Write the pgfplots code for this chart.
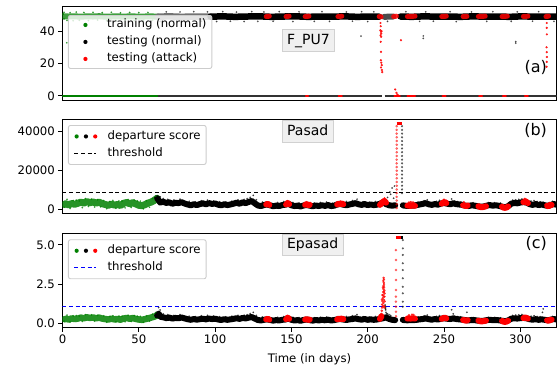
\documentclass[border=0pt]{standalone}
\usepackage{pgfplots}
\pgfplotsset{compat=1.18}
\usepackage{fontspec}
\setmainfont{DejaVu Sans}
\definecolor{mgreen}{HTML}{008000}
\definecolor{mred}{HTML}{FF0000}
\definecolor{mblue}{HTML}{0000FF}
\newcommand\tf{\fontsize{11.7pt}{14pt}\selectfont}
\newcommand\lf{\fontsize{14pt}{16pt}\selectfont}
\newcommand\pf{\fontsize{16pt}{19pt}\selectfont}
\pgfplotsset{
 panel/.style={
  scale only axis, width=494pt, height=94pt, anchor=south west,
  xmin=0, xmax=323.7,
  axis line style={line width=0.9pt},
  tick style={black, line width=0.9pt},
  tick align=outside, major tick length=4.1pt,
  ytick pos=left, xtick pos=bottom,
  tick label style={font=\tf},
  /pgf/number format/assume math mode=true,
  /pgf/number format/1000 sep={},
  legend cell align=left,
  legend style={at={(0,1)}, anchor=north west, xshift=5.5pt, draw=black!20, line width=0.9pt,
    fill=white, fill opacity=0.8, text opacity=1, draw opacity=1, rounded corners=2pt,
    inner xsep=5.5pt, inner ysep=4pt, row sep=6pt, font=\tf,
    nodes={inner sep=0pt, text height=8.5pt, text depth=2.5pt}},
 },
 dots/.style={only marks, mark=*, mark size=#1, forget plot},
 band/.style={line width=#1, line join=round, line cap=round, forget plot, mark=none, unbounded coords=jump},
 onedot/.style={legend image code/.code={\path[draw=none,fill=none] (0pt,0pt) -- (33.2pt,0pt); \fill[#1,draw=none,fill opacity=1] (11.5pt,0pt) circle (2.1pt);}},
 threedots/.style={legend image code/.code={\path[draw=none,fill=none] (0pt,0pt) -- (33.2pt,0pt); \fill[mgreen,draw=none,fill opacity=1] (2.2pt,0pt) circle (2.1pt); \fill[black,draw=none,fill opacity=1] (11.5pt,0pt) circle (2.1pt); \fill[mred,draw=none,fill opacity=1] (20.8pt,0pt) circle (2.1pt);}},
 dashimg/.style={legend image code/.code={\path[draw=none,fill=none] (0pt,0pt) -- (33.2pt,0pt); \draw[#1, line width=1pt, dash pattern=on 4pt off 2.6pt] (0pt,0pt) -- (21.3pt,0pt);}},
}
\tikzset{
 ttl/.style={anchor=west, fill=black!6, draw=black!18, line width=0.9pt, font=\lf, inner xsep=5pt, inner ysep=3.8pt, text height=10.5pt, text depth=3.5pt},
 plab/.style={anchor=east, font=\pf, inner sep=0pt},
}
\begin{document}
\begin{tikzpicture}
\useasboundingbox (0,0) rectangle (558pt,368pt);
% ---------------- (a) F_PU7
\begin{axis}[panel, at={(62.5pt,267.7pt)}, ymin=-2.7, ymax=55.3, ytick={0,20,40}, xtick=\empty,
  legend style={yshift=-8.7pt}]
\addplot[band=6pt, mgreen, opacity=0.75] coordinates {(0,49.2)(4,49.0)(8,49.1)(12,48.9)(16,49.1)(20,49.0)(24,49.2)(28,48.9)(32,49.0)(36,49.1)(40,48.9)(44,49.1)(48,49.0)(52,48.9)(56,49.1)(60,49.0)(62.5,49.0)};
\addplot[mgreen, line width=1.4pt, forget plot] coordinates {(0,0)(62.5,0)};
\addplot[dots=0.7pt, mgreen, opacity=0.6] coordinates {(1,51.6)(3,46.6)(5,51.4)(7,46.4)(9,51.7)(11,46.7)(14,51.5)(17,46.5)(20,51.6)(23,46.8)(26,51.4)(29,46.5)(32,51.6)(35,46.6)(38,51.3)(41,46.7)(44,51.5)(47,46.5)(50,51.4)(53,46.6)(56,51.5)(59,46.7)(2.8,32.8)(0.5,50.5)(1,47.5)};
\addplot[band=6.5pt, black!55] coordinates {(62.5,48.9)(70,49.1)(78,48.8)(86,49.0)(97,48.9)};
\addplot[band=6.5pt, black] coordinates {(97,48.9)(105,49.1)(113,48.8)(121,49.0)(129,49.1)(137,48.8)(145,49.0)(153,49.1)(161,48.8)(169,49.0)(177,48.9)(185,49.1)(193,48.8)(201,49.0)(207.5,48.9)};
\addplot[band=6pt, black!70] coordinates {(210.8,48.8)(216.8,49.0)};
\addplot[band=6.5pt, black] coordinates {(221.5,49.0)(229,48.8)(237,49.1)(245,48.9)(253,49.0)(261,48.8)(269,49.1)(277,48.9)(285,49.0)(293,48.8)(301,49.1)(309,48.9)(317,49.0)(323.7,48.9)};
\addplot[black!80, line width=1.4pt, forget plot] coordinates {(62.5,0)(209.5,0)};
\addplot[black!80, line width=1.4pt, forget plot] coordinates {(211,0)(323.7,0)};
\addplot[dots=0.7pt, black, opacity=0.5] coordinates {(64,46.0)(68,51.9)(73,46.2)(77,51.8)(82,45.9)(86,52.0)(91,46.1)(95,51.9)(101,45.9)(105,52.0)(110,46.1)(114,51.7)(119,45.9)(124,52.0)(128,46.0)(132,51.8)(138,46.1)(142,52.0)(151,45.9)(155,51.9)(165,46.0)(170,52.0)(175,46.0)(186,51.8)(190,46.1)(196,52.0)(200,45.9)(204,51.9)(213,46.0)(225,52.0)(234,46.0)(238,51.9)(243,46.1)(254,52.0)(258,45.9)(268,51.8)(278,46.0)(282,52.0)(294,46.0)(298,51.9)(308,46.1)(312,52.0)(322,46.0)(195.6,36.9)(236.4,37.0)(236.4,35.5)(297,33.5)(297,32.6)};
\addplot[band=5pt, mred, opacity=0.85] coordinates {(133.5,49)(135.5,49.2)(136,nan)(146.5,49)(148.5,49.2)(149,nan)(159,49)(161.5,49.2)(162,nan)(180.5,49)(183,49.2)(183.5,nan)(207.5,49)(208.8,48.8)(209,nan)(217,49)(218.8,49.2)(219,nan)(226,49)(231,49.2)(231.5,nan)(248.5,49)(251.5,49.2)(252,nan)(262.5,49)(265,49.1)(265.5,nan)(272.5,49)(277,49.2)(277.5,nan)(288,49)(291.5,49.2)(292,nan)(302,49)(305,49.2)(305.5,nan)(316.8,49)(318.5,49.2)};
\addplot[band=2pt, mred] coordinates {(159.5,0)(161,0)(161.5,nan)(181,0)(183,0)(183.5,nan)(217.5,0)(221,0)(221.5,nan)(226,0)(231,0)(231.5,nan)(249,0)(251,0)(251.5,nan)(273,0)(275,0)(275.5,nan)(288.5,0)(290.5,0)(291,nan)(303,0)(305,0)};
\addplot[dots=0.9pt, mred, opacity=0.8] coordinates {(208.3,40.5)(208.6,39.5)(208.9,38.5)(208.4,37.5)(208.8,36.5)(209.1,40)(208.5,33.4)(208.7,27.2)(208.6,22)(208.9,20.5)(209.2,19)(208.7,17.5)(209.3,16)(209.5,14.7)(208.4,45)(208.5,43)(221.8,34.4)(218,4)(218.8,1.9)(219.5,0.8)(317.3,45)(317.3,42)(317.4,38)(317.2,30)(317.3,27)(317.4,24)(317.3,21)(317.2,18)};
\addlegendimage{onedot=mgreen}
\addlegendentry{training (normal)}
\addlegendimage{onedot=black}
\addlegendentry{testing (normal)}
\addlegendimage{onedot=mred}
\addlegendentry{testing (attack)}
\node[ttl] at (rel axis cs:0.4437,0.634) {F\_PU7};
\node[plab] at (rel axis cs:0.981,0.354) {(a)};
\end{axis}
% ---------------- (b) Pasad
\begin{axis}[panel, at={(62.5pt,154.5pt)}, ymin=-2000, ymax=46000, ytick={0,20000,40000}, xtick=\empty,
  scaled y ticks=false, legend style={yshift=-5.5pt, inner ysep=5.5pt}]
\addplot[black, line width=1pt, dash pattern=on 4pt off 2.6pt, forget plot] coordinates {(0,8750)(323.7,8750)};
\addplot[band=7pt, mgreen, opacity=0.85] coordinates {(1.5,2600)(2,3000)(4,2400)(6,3100)(8,2700)(10,3200)(12,3800)(14,3300)(16,4100)(18,3500)(20,3900)(22,3300)(24,3800)(26,3000)(28,2600)(30,2200)(32,2800)(34,2300)(36,2600)(38,2100)(40,3200)(42,3600)(44,3000)(46,3500)(48,2900)(50,2200)(52,2000)(54,2500)(56,3300)(58,3800)(60,4600)(62,5800)};
\addplot[dots=0.7pt, mgreen, opacity=0.6] coordinates {(3,5200)(9,4800)(15,5600)(19,5300)(23,5000)(27,4600)(33,4700)(37,4400)(43,5100)(47,4900)(51,4300)(55,4500)(59,5700)(61,6800)(5,600)(13,1000)(21,1300)(29,500)(35,700)(45,1100)(53,400)(57,1200)(1,1200)(7,4600)(11,4400)(17,1600)(25,1400)(31,4100)(39,4300)(41,900)(49,4400)};
\addplot[band=6pt, black] coordinates {(62,5800)(63,4800)(64,3600)(66,4000)(68,3400)(70,3700)(72,3000)(74,3500)(76,3300)(78,3800)(80,3100)(82,2600)(84,2200)(86,2700)(88,2300)(90,2800)(92,3200)(94,2700)(96,3300)(98,2900)(100,3100)(102,2500)(104,2200)(106,2700)(108,2300)(110,2600)(112,3000)(114,3500)(116,3000)(118,3700)(120,3300)(122,3900)(124,4400)(126,3200)(128,2100)(130,1800)(132,2300)(134,2600)(136,2200)(138,1700)(140,2000)(142,1800)(144,2300)(146,2500)(148,3000)(150,2200)(152,1800)(154,2000)(156,1600)(158,2100)(160,2400)(162,2000)(164,1700)(166,2100)(168,1800)(170,2200)(172,1900)(174,2300)(176,1800)(178,2000)(180,2600)(182,2900)(184,2500)(186,2200)(188,2600)(190,2900)(192,3300)(194,2700)(196,2400)(198,2800)(200,2300)(202,2600)(204,2300)(206,2500)(208,3000)(210,3700)(212,2800)(214,2200)(216,2000)(218,2200)};
\addplot[band=6pt, black] coordinates {(223,2200)(224,2000)(226,1900)(228,2000)(230,2000)(232,2300)(234,2600)(236,2900)(238,3300)(240,2700)(242,2400)(244,2800)(246,2500)(248,3100)(250,3400)(252,3000)(254,2700)(256,3200)(258,2800)(260,2600)(262,2400)(264,2000)(266,1800)(268,2200)(270,2000)(272,1700)(274,1500)(276,1600)(278,2000)(280,2300)(282,2000)(284,2200)(286,1900)(288,1500)(290,1200)(292,1700)(294,3000)(296,3400)(298,3200)(300,3600)(302,3800)(304,3600)(306,2800)(308,2400)(310,2800)(312,2300)(314,2600)(316,2200)(318,1900)(320,2400)(322,2800)(323.7,2500)};
\addplot[dots=0.7pt, black, opacity=0.55] coordinates {(64,6500)(66,5600)(69,5200)(73,4900)(77,5300)(83,4200)(87,3900)(91,4500)(95,4800)(99,4400)(103,4000)(107,3900)(111,4300)(115,5000)(119,5200)(121,5600)(123,6200)(125,7300)(127,5000)(131,3800)(141,3600)(145,4100)(151,3600)(155,3400)(165,3300)(169,3600)(173,3800)(177,3200)(186,4100)(190,4600)(193,5300)(197,4000)(201,3700)(205,4100)(213,6200)(214.5,9000)(215,7800)(216,11000)(217,5800)(217.5,12000)(233,3800)(237,4500)(239,5000)(245,4200)(247,4700)(255,5400)(257,4300)(259,4100)(261,3900)(269,3500)(279,3600)(283,3500)(287,3300)(295,4800)(297,5000)(299,5200)(301,5400)(307,4300)(309,4600)(311,4100)(313,4000)(315,3700)(321,4200)};
\addplot[band=6pt, mred] coordinates {(133.5,2600)(134.5,3000)(135.5,2400)(136,nan)(146.5,2600)(147.5,3400)(148.5,2800)(149,nan)(159,2400)(160,2800)(161,2200)(162,2500)(162.5,nan)(180,2600)(181,3000)(182,2800)(183,3200)(184,2700)(184.5,nan)(208,2400)(209,3200)(210,3900)(211,4400)(212,3500)(212.5,nan)(226,2000)(227,2100)(228,1900)(229,2000)(230,2100)(231,1900)(231.5,nan)(248.5,3000)(249.5,3600)(250.5,3900)(251.5,3300)(252,nan)(262.5,2200)(263.5,2000)(264.5,1800)(265.5,2100)(266,nan)(272.5,1700)(273.5,1400)(274.5,1200)(275.5,1300)(276.5,1500)(277.5,1700)(278,nan)(288,1500)(289,1000)(290,900)(291,1100)(292,1600)(292.5,nan)(302,3800)(303,4300)(304,3900)(305,3300)(305.5,nan)(317.5,2000)(318.5,1700)(319.5,2200)(320.5,2400)};
\addplot[dots=0.8pt, mred, opacity=0.8] coordinates {(210,5200)(211,5800)(209.5,4800)(303,5600)(304,5000)(250,5200)(227,3700)(229,3800)(230,3600)(228,3900)(263,3800)(319,3500)(160,3900)(182,4200)};
\addplot[dots=1.1pt, mred, opacity=0.5] coordinates {(219,800)(219,2700)(219,4600)(219,6500)(219,8400)(219,10300)(219,12200)(219,14100)(219,16000)(219,17900)(219,19800)(219,21700)(219,23600)(219,25500)(219,27400)(219,29300)(219,31200)(219,33100)(219,35000)(219,36900)(219,38800)(219,40700)(219,42600)};
\addplot[dots=0.9pt, black, opacity=0.5] coordinates {(222.5,8400)(222.5,10300)(222.5,12200)(222.5,14100)(222.5,16000)(222.5,17900)(222.5,19800)(222.5,21700)(222.5,23600)(222.5,25500)(222.5,27400)(222.5,29300)(222.5,31200)(222.5,33100)(222.5,35000)(222.5,36900)(222.5,38800)(222.5,40700)(222.5,42600)};
\addplot[mred, line width=2.5pt, forget plot] coordinates {(219,43900)(222.5,43900)};
\addlegendimage{threedots}
\addlegendentry{departure score}
\addlegendimage{dashimg=black}
\addlegendentry{threshold}
\node[ttl] at (rel axis cs:0.4437,0.870) {Pasad};
\node[plab] at (rel axis cs:0.981,0.888) {(b)};
\end{axis}
% ---------------- (c) Epasad
\begin{axis}[panel, at={(62.5pt,40.5pt)}, ymin=-0.27, ymax=5.73, ytick={0,2.5,5}, xtick={0,50,100,150,200,250,300},
  yticklabel style={/pgf/number format/.cd, fixed, fixed zerofill, precision=1},
  xlabel={Time (in days)}, xlabel style={font=\tf, yshift=-2.5pt},
  legend style={yshift=-5.8pt, inner ysep=5.5pt}]
\addplot[mblue, line width=1pt, dash pattern=on 4pt off 2.6pt, forget plot] coordinates {(0,1.10)(323.7,1.10)};
\addplot[band=6.5pt, mgreen, opacity=0.85] coordinates {(1.5,0.25)(2,0.30)(4,0.24)(6,0.31)(8,0.27)(10,0.30)(12,0.36)(14,0.32)(16,0.38)(18,0.34)(20,0.37)(22,0.32)(24,0.36)(26,0.30)(28,0.27)(30,0.24)(32,0.29)(34,0.25)(36,0.27)(38,0.23)(40,0.30)(42,0.34)(44,0.29)(46,0.33)(48,0.28)(50,0.24)(52,0.22)(54,0.26)(56,0.31)(58,0.36)(60,0.42)(62,0.50)};
\addplot[dots=0.7pt, mgreen, opacity=0.6] coordinates {(3,0.52)(9,0.49)(15,0.55)(19,0.53)(23,0.50)(27,0.47)(33,0.48)(37,0.46)(43,0.51)(47,0.49)(51,0.44)(55,0.47)(59,0.58)(61,0.68)(5,0.08)(13,0.12)(21,0.14)(29,0.07)(35,0.09)(45,0.12)(53,0.06)(57,0.14)(1,0.14)(7,0.47)(11,0.46)(31,0.43)(39,0.45)(41,0.10)(49,0.45)};
\addplot[band=6pt, black] coordinates {(62,0.50)(63,0.62)(64,0.42)(66,0.38)(68,0.33)(70,0.36)(72,0.30)(74,0.34)(76,0.32)(78,0.37)(80,0.31)(82,0.26)(84,0.22)(86,0.27)(88,0.23)(90,0.26)(92,0.29)(94,0.25)(96,0.30)(98,0.27)(100,0.29)(102,0.24)(104,0.21)(106,0.26)(108,0.22)(110,0.25)(112,0.28)(114,0.32)(116,0.28)(118,0.34)(120,0.31)(122,0.36)(124,0.40)(126,0.30)(128,0.21)(130,0.18)(132,0.22)(134,0.25)(136,0.21)(138,0.17)(140,0.20)(142,0.18)(144,0.22)(146,0.24)(148,0.30)(150,0.22)(152,0.18)(154,0.20)(156,0.16)(158,0.21)(160,0.24)(162,0.20)(164,0.17)(166,0.21)(168,0.18)(170,0.22)(172,0.19)(174,0.23)(176,0.18)(178,0.20)(180,0.25)(182,0.27)(184,0.24)(186,0.21)(188,0.25)(190,0.27)(192,0.31)(194,0.26)(196,0.23)(198,0.27)(200,0.22)(202,0.25)(204,0.22)(206,0.24)(208,0.28)(210,0.32)(212,0.38)(213,0.32)(214,0.28)(216,0.22)(218,0.20)};
\addplot[band=6pt, black] coordinates {(223,0.22)(224,0.20)(226,0.19)(228,0.20)(230,0.20)(232,0.22)(234,0.25)(236,0.27)(238,0.31)(240,0.26)(242,0.23)(244,0.27)(246,0.24)(248,0.29)(250,0.32)(252,0.29)(254,0.27)(256,0.31)(258,0.27)(260,0.25)(262,0.23)(264,0.20)(266,0.18)(268,0.21)(270,0.20)(272,0.17)(274,0.15)(276,0.16)(278,0.20)(280,0.22)(282,0.20)(284,0.21)(286,0.19)(288,0.16)(290,0.13)(292,0.18)(294,0.29)(296,0.32)(298,0.30)(300,0.33)(302,0.34)(304,0.32)(306,0.26)(308,0.23)(310,0.26)(312,0.22)(314,0.25)(316,0.22)(318,0.19)(320,0.23)(322,0.27)(323.7,0.24)};
\addplot[dots=0.7pt, black, opacity=0.55] coordinates {(64,0.85)(63,1.0)(66,0.6)(69,0.55)(73,0.5)(77,0.55)(83,0.45)(87,0.42)(91,0.48)(95,0.5)(99,0.46)(103,0.42)(107,0.41)(111,0.45)(115,0.5)(119,0.52)(121,0.55)(123,0.62)(125,0.70)(127,0.5)(131,0.4)(141,0.38)(145,0.43)(151,0.38)(155,0.36)(165,0.35)(169,0.38)(173,0.40)(177,0.34)(186,0.43)(190,0.48)(193,0.55)(197,0.42)(201,0.39)(205,0.43)(213,0.6)(214,0.55)(215,0.5)(233,0.4)(237,0.47)(239,0.52)(245,0.44)(247,0.49)(255,0.86)(256,0.6)(257,0.45)(259,0.43)(261,0.41)(265,0.7)(269,0.37)(279,0.38)(283,0.37)(287,0.35)(295,0.5)(297,0.52)(299,0.54)(301,0.56)(307,0.45)(309,0.48)(311,0.43)(313,0.42)(315,0.92)(314.5,0.7)(321,0.44)(211.4,1.17)(211.6,1.0)(211.8,0.85)(212,0.7)(212.3,0.6)(211.5,1.08)(211.7,0.92)(212.5,0.5)};
\addplot[band=6pt, mred] coordinates {(133.5,0.25)(134.5,0.29)(135.5,0.23)(136,nan)(146.5,0.26)(147.5,0.36)(148.5,0.28)(149,nan)(159,0.23)(160,0.27)(161,0.21)(162,0.24)(162.5,nan)(180,0.25)(181,0.29)(182,0.27)(183,0.30)(184,0.26)(184.5,nan)(208,0.28)(209,0.45)(209.5,nan)(226,0.30)(227,0.32)(228,0.30)(229,0.31)(230,0.32)(231,0.30)(231.5,nan)(248.5,0.28)(249.5,0.33)(250.5,0.36)(251.5,0.31)(252,nan)(262.5,0.21)(263.5,0.19)(264.5,0.17)(265.5,0.20)(266,nan)(272.5,0.17)(273.5,0.14)(274.5,0.12)(275.5,0.13)(276.5,0.15)(277.5,0.17)(278,nan)(288,0.15)(289,0.10)(290,0.09)(291,0.11)(292,0.16)(292.5,nan)(302,0.33)(303,0.37)(304,0.34)(305,0.30)(305.5,nan)(317.5,0.19)(318.5,0.16)(319.5,0.21)(320.5,0.23)};
\addplot[dots=1pt, mred, opacity=0.7] coordinates {(209.0,0.6)(209.2,0.8)(209.4,1.0)(209.5,1.2)(209.7,1.4)(209.8,1.6)(210.0,1.8)(210.1,2.0)(210.2,2.2)(210.4,2.4)(210.5,2.6)(210.6,2.8)(210.4,2.9)(210.7,2.5)(210.8,2.3)(210.9,2.1)(211.0,1.9)(211.0,1.7)(210.6,1.5)(210.3,1.3)(210.9,1.1)(209.9,2.3)(210.2,2.7)(210.7,2.0)(209.6,1.8)(210.0,1.1)(210.5,1.7)(211.1,1.4)(210.8,1.0)(209.3,1.5)(229,0.55)(227,0.52)(230,0.54)};
\addplot[dots=1.1pt, mred, opacity=0.5] coordinates {(218.5,0.45)(218.5,0.74)(218.5,1.06)(218.5,1.38)(218.5,1.70)(218.5,2.12)(218.5,2.76)(218.5,3.40)(218.5,4.04)(218.5,4.67)};
\addplot[dots=0.9pt, black, opacity=0.5] coordinates {(223,1.06)(223,1.38)(223,1.91)(223,2.33)(223,2.87)(223,3.40)(223,3.83)(223,4.36)(223,4.78)(223,5.31)};
\addplot[mred, line width=2.5pt, forget plot] coordinates {(218.5,5.46)(221.6,5.46)};
\addplot[black, line width=2.5pt, forget plot] coordinates {(221.6,5.46)(223,5.46)};
\addlegendimage{threedots}
\addlegendentry{departure score}
\addlegendimage{dashimg=mblue}
\addlegendentry{threshold}
\node[ttl] at (rel axis cs:0.4437,0.879) {Epasad};
\node[plab] at (rel axis cs:0.981,0.894) {(c)};
\end{axis}
\end{tikzpicture}
\end{document}
